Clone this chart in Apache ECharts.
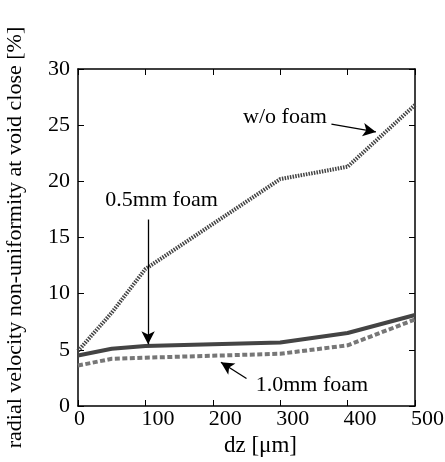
<!DOCTYPE html>
<html><head><meta charset="utf-8">
<script src="https://cdn.jsdelivr.net/npm/echarts@6/dist/echarts.min.js"></script>
<style>html,body{margin:0;padding:0;background:#fff}#c{width:445px;height:462px}</style>
</head><body><div id="c"></div>
<script>
var dz = [0, 50, 100, 300, 400, 500];
var woFoam = [4.9, 8.3, 12.2, 20.2, 21.3, 26.8];
var foam05 = [4.5, 5.1, 5.35, 5.65, 6.5, 8.1];
var foam10 = [3.6, 4.2, 4.3, 4.65, 5.4, 7.7];
var xTicks = [0, 100, 200, 300, 400, 500];
var yTicks = [0, 5, 10, 15, 20, 25, 30];

function pairs(v){ return dz.map(function(x,i){ return [x, v[i]]; }); }
var font = 'Liberation Serif';
var chart = echarts.init(document.getElementById('c'), null, {renderer:'canvas'});
function axisBase(){
  return {
    type:'value', axisLine:{show:true,onZero:false,lineStyle:{color:'#000',width:1.5}},
    axisTick:{show:true,inside:true,length:6,lineStyle:{color:'#000',width:1}},
    splitLine:{show:false}
  };
}
var xa = Object.assign(axisBase(), {min:0,max:500,interval:100,position:'bottom',
  name:'dz [μm]', nameLocation:'middle', nameGap:25,
  nameTextStyle:{fontFamily:font,fontSize:23,color:'#000',padding:[0,0,0,28]},
  axisLabel:{fontFamily:font,fontSize:22,color:'#000',margin:2,align:'left',padding:[0,0,0,-4],
    formatter:function(v){return xTicks.indexOf(v)>=0?String(v):'';}}});
var xa2 = Object.assign(axisBase(), {min:0,max:500,interval:100,position:'top',axisLabel:{show:false}});
var ya = Object.assign(axisBase(), {min:0,max:30,interval:5,position:'left',
  name:'radial velocity non-uniformity at void close [%]', nameLocation:'middle', nameGap:52,
  nameTextStyle:{fontFamily:font,fontSize:22,color:'#000'},
  axisLabel:{fontFamily:font,fontSize:22,color:'#000',margin:8,
    formatter:function(v){return yTicks.indexOf(v)>=0?String(v):'';}}});
var ya2 = Object.assign(axisBase(), {min:0,max:30,interval:5,position:'right',axisLabel:{show:false}});

var arrowStyle = {color:'#000',width:1.3,type:'solid'};
function arrow(a,b){ return [{coord:a},{coord:b}]; }
function txt(c,t){ return {coord:c,value:t,symbolSize:0,label:{show:true,position:'inside',formatter:t,fontFamily:font,fontSize:22,color:'#000'}}; }

chart.setOption({
  animation:false,
  grid:{left:78,right:30,top:69,bottom:56,containLabel:false,outerBoundsMode:'none'},
  xAxis:[xa,xa2],
  yAxis:[ya,ya2],
  series:[
    {type:'line',data:pairs(woFoam),symbol:'none',lineStyle:{color:'#444',width:4,type:[1.5,1.2]},
     markLine:{silent:true,symbol:['none','arrow'],symbolSize:[10,13],label:{show:false},lineStyle:arrowStyle,
       data:[arrow([376,25.1],[442,24.4]), arrow([104,16.6],[104,5.5]), arrow([250,2.45],[212,3.9])]},
     markPoint:{silent:true,symbol:'circle',symbolSize:0,
       data:[txt([307,25.7],'w/o foam'), txt([124,18.3],'0.5mm foam'), txt([347,1.85],'1.0mm foam')]}},
    {type:'line',data:pairs(foam05),symbol:'none',lineStyle:{color:'#444',width:4,type:'solid'}},
    {type:'line',data:pairs(foam10),symbol:'none',lineStyle:{color:'#777',width:4,type:[5,2.5]}}
  ]
});
</script></body></html>
